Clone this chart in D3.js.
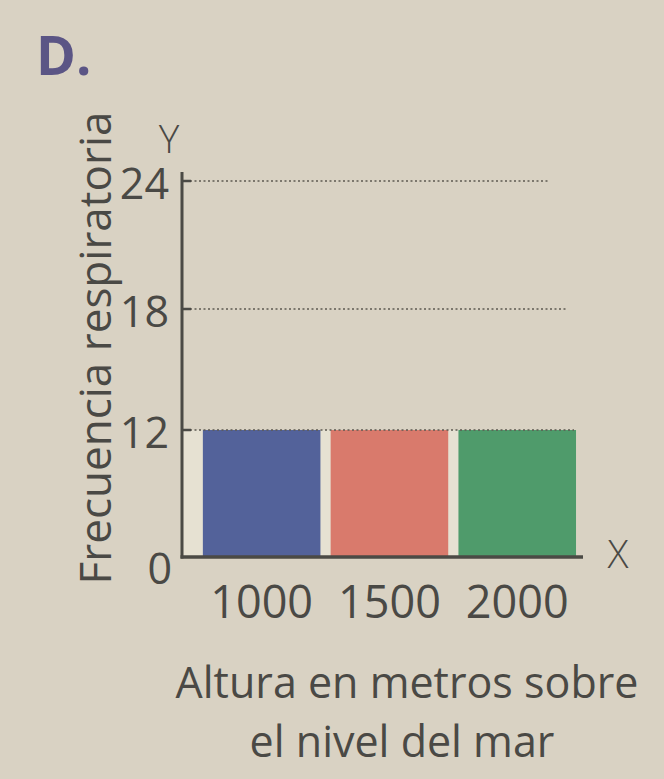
<!DOCTYPE html>
<html>
<head>
<meta charset="utf-8">
<script src="https://cdn.jsdelivr.net/npm/d3@7"></script>
<style>
  html, body { margin: 0; padding: 0; background: #d9d2c3; }
  svg text { font-family: 'Open Sans', sans-serif; fill: #4a4945; }
</style>
</head>
<body>
<div class="chart"></div>
<script>
var categories = ["1000", "1500", "2000"];
var values = [12, 12, 12];
var yTicks = [0, 12, 18, 24];
var barColors = ["#53629a", "#d97a6c", "#4f9b6b"];

(function () {
	var width = 664, height = 779;

	var svg = d3.select(".chart")
		.append("svg")
		.attr("width", width)
		.attr("height", height);

	// the printed axis is not to scale: 0-12 is squeezed
	var y = d3.scaleLinear()
		.domain([0, 12, 18, 24])
		.range([557, 430, 309, 181]);

	var x = d3.scaleBand()
		.domain(categories)
		.range([183, 583])
		.paddingInner(0.08)
		.paddingOuter(0.105)
		.align(0.74);

	var axisX = 182, axisTop = 172, axisRight = 583;
	var gridEnd = { 12: 574, 18: 566, 24: 550 };

	// panel label
	svg.append("text")
		.attr("x", 36).attr("y", 75)
		.style("font-size", "54px")
		.style("font-weight", "bold")
		.style("fill", "#5b5585")
		.text("D.");

	// light paper behind the bars
	svg.append("rect")
		.attr("x", axisX)
		.attr("y", y(d3.max(values)))
		.attr("width", x(categories[2]) + x.bandwidth() - axisX)
		.attr("height", y(0) - y(d3.max(values)))
		.attr("fill", "#e6e1d2");

	svg.selectAll(".bar")
		.data(values)
		.enter().append("rect")
		.attr("class", "bar")
		.attr("x", function(d, i) { return x(categories[i]); })
		.attr("y", function(d) { return y(d); })
		.attr("width", x.bandwidth())
		.attr("height", function(d) { return y(0) - y(d); })
		.attr("fill", function(d, i) { return barColors[i]; });

	// dotted guides and small ticks
	var grid = yTicks.filter(function(d) { return d > 0; });
	svg.selectAll(".grid")
		.data(grid)
		.enter().append("line")
		.attr("x1", axisX + 8)
		.attr("x2", function(d) { return gridEnd[d]; })
		.attr("y1", function(d) { return y(d); })
		.attr("y2", function(d) { return y(d); })
		.attr("stroke", "#5e5a52")
		.attr("stroke-width", 1.4)
		.attr("stroke-dasharray", "2,2.5");

	svg.selectAll(".tick")
		.data(grid)
		.enter().append("line")
		.attr("x1", axisX)
		.attr("x2", axisX + 9)
		.attr("y1", function(d) { return y(d); })
		.attr("y2", function(d) { return y(d); })
		.attr("stroke", "#4b4a45")
		.attr("stroke-width", 2.5);

	// axes
	svg.append("line")
		.attr("x1", axisX).attr("x2", axisX)
		.attr("y1", axisTop).attr("y2", y(0) + 1.5)
		.attr("stroke", "#4b4a45").attr("stroke-width", 3);
	svg.append("line")
		.attr("x1", axisX - 1.5).attr("x2", axisRight)
		.attr("y1", y(0)).attr("y2", y(0))
		.attr("stroke", "#4b4a45").attr("stroke-width", 3.5);

	// y tick labels
	svg.selectAll(".ylab")
		.data(yTicks)
		.enter().append("text")
		.attr("x", function(d) { return d === 0 ? 172 : 169; })
		.attr("y", function(d) { return d === 0 ? y(d) + 12 : y(d) + 3; })
		.attr("dy", "0.36em")
		.attr("text-anchor", "end")
		.style("font-size", "43px")
		.text(function(d) { return d; });

	// category labels
	svg.selectAll(".xlab")
		.data(categories)
		.enter().append("text")
		.attr("x", function(d) { return x(d) + x.bandwidth() / 2; })
		.attr("y", 618)
		.attr("text-anchor", "middle")
		.style("font-size", "45px")
		.text(function(d) { return d; });

	// axis letters
	svg.append("text")
		.attr("x", 169).attr("y", 153)
		.attr("text-anchor", "middle")
		.style("font-size", "39px")
		.style("font-weight", 300)
		.text("Y");
	svg.append("text")
		.attr("x", 618).attr("y", 568)
		.attr("text-anchor", "middle")
		.style("font-size", "39px")
		.style("font-weight", 300)
		.text("X");

	// y title
	svg.append("text")
		.attr("transform", "translate(111,348) rotate(-90)")
		.attr("text-anchor", "middle")
		.style("font-size", "44px")
		.text("Frecuencia respiratoria");

	// x title
	svg.append("text")
		.attr("x", 407).attr("y", 698)
		.attr("text-anchor", "middle")
		.style("font-size", "43px")
		.text("Altura en metros sobre");
	svg.append("text")
		.attr("x", 402).attr("y", 757)
		.attr("text-anchor", "middle")
		.style("font-size", "43px")
		.text("el nivel del mar");
})();
</script>
</body>
</html>
